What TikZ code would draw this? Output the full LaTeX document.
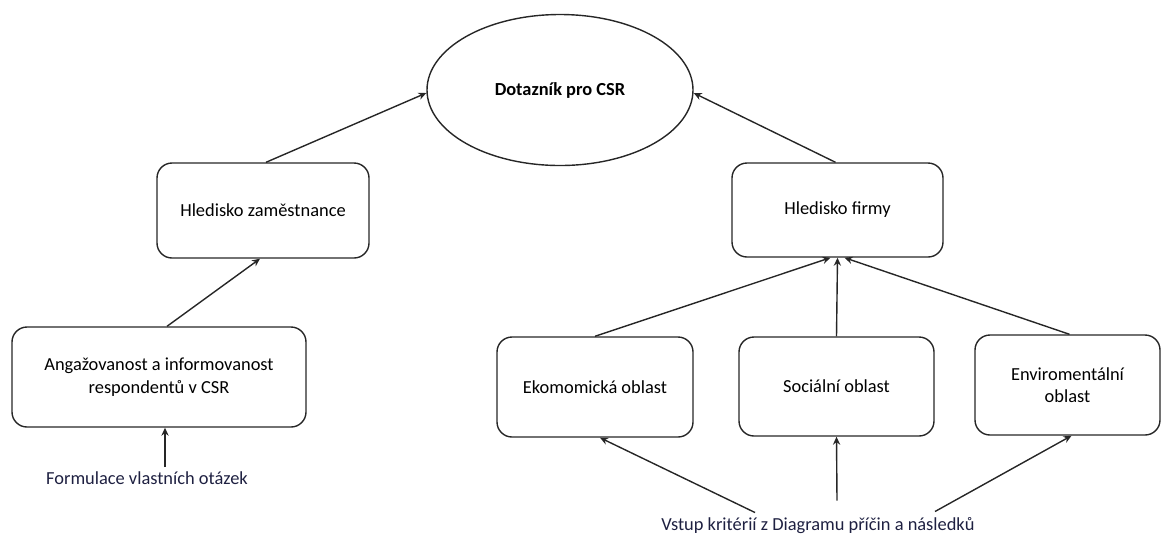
\documentclass[tikz,border=0pt]{standalone}
\usepackage{fontspec}
\setmainfont{Carlito}
\usetikzlibrary{shapes.geometric,arrows.meta,calc}
\definecolor{lbl}{RGB}{30,32,65}
\begin{document}
\begin{tikzpicture}[x=0.5pt,y=-0.5pt,
  every node/.style={font=\fontsize{9.2pt}{11.2pt}\selectfont},
  rbox/.style={draw=black!85, line width=0.7pt, rounded corners=7.5pt, align=center, inner sep=2pt},
  oval/.style={draw=black!85, line width=0.7pt, ellipse, inner sep=0pt, minimum width=133pt, minimum height=75.5pt, font=\fontsize{9.2pt}{11.2pt}\selectfont\bfseries},
  freetext/.style={text=lbl, inner sep=0pt, align=center},
  conn/.style={draw=black!85, line width=0.7pt, -{Stealth[length=4pt,width=3.6pt]}}
]
\useasboundingbox (0,0) rectangle (1161,538);
\node[oval] (ell) at (560,90) {Dotazník pro CSR};
\node[rbox, minimum width=106pt, minimum height=47.5pt] (hz) at (263,210.5) {Hledisko zaměstnance};
\node[rbox, minimum width=147pt, minimum height=50pt] (ang) at (159,377) {Angažovanost a informovanost\\respondentů v CSR};
\node[rbox, minimum width=105.5pt, minimum height=47pt] (hf) at (837.5,210) {Hledisko firmy};
\node[rbox, minimum width=98pt, minimum height=50pt] (eko) at (595,387) {Ekomomická oblast};
\node[rbox, minimum width=97.5pt, minimum height=49.5pt] (soc) at (836.5,386.5) {Sociální oblast};
\node[rbox, minimum width=92.5pt, minimum height=50pt] (env) at (1067.5,385) {Enviromentální\\oblast};
\node[freetext] (form) at (147,478) {Formulace vlastních otázek};
\node[freetext] (vstup) at (818,526) {Vstup kritérií z Diagramu příčin a následků};

\draw[conn] ($(hz.north)+(3,0)$) -- ($(ell.west)+(0,3)$);
\draw[conn] ($(hf.north)+(-2,0)$) -- ($(ell.east)+(0,3)$);
\draw[conn] ($(ang.north)+(8,0)$) -- ($(hz.south)+(-3,0)$);
\draw[conn] ($(form.north)+(18,-4)$) -- ($(ang.south)+(6,0)$);
\draw[conn] (eko.north) -- ($(hf.south)+(-7,0)$);
\draw[conn] (soc.north) -- (hf.south);
\draw[conn] ($(env.north)+(2,0)$) -- ($(hf.south)+(7,0)$);
\draw[conn] ($(vstup.north)+(-63,-5)$) -- ($(eko.south)+(5,0)$);
\draw[conn] ($(vstup.north)+(19,-17)$) -- (soc.south);
\draw[conn] ($(vstup.north)+(117,-6)$) -- ($(env.south)+(4,0)$);
\end{tikzpicture}
\end{document}
